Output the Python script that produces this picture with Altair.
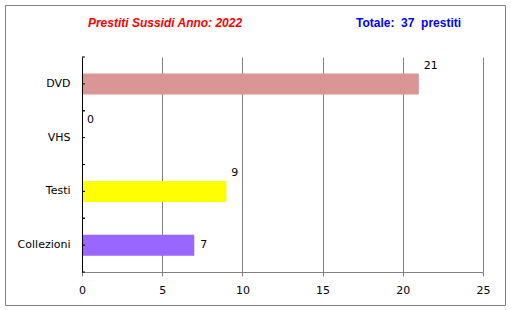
import altair as alt
import pandas as pd

categories = ["DVD", "VHS", "Testi", "Collezioni"]
values = [21, 0, 9, 7]
colors = ["#DA9694", "#FFFFFF", "#FFFF00", "#9966FF"]
x_ticks = [0, 5, 10, 15, 20, 25]
title_text = "Prestiti Sussidi Anno: 2022"
total_text = "Totale:\u00a0\u00a037\u00a0\u00a0prestiti"

df = pd.DataFrame({"cat": categories, "val": values, "color": colors})

FONT = "DejaVu Sans"

yscale = alt.Scale(domain=categories, paddingInner=0, paddingOuter=0)
yenc = alt.Y(
    "cat:N", sort=categories, scale=yscale,
    axis=alt.Axis(title=None, domainColor="black", ticks=False, labelPadding=12,
                  labelFont=FONT, labelFontSize=11, labelColor="black", grid=False, zindex=1),
)
xenc = alt.X(
    "val:Q", scale=alt.Scale(domain=[0, 25], nice=False),
    axis=alt.Axis(title=None, values=x_ticks, grid=True, gridColor="#808080", gridOpacity=1,
                  domainColor="#808080", tickColor="#808080", tickSize=4, labelPadding=8,
                  labelFont=FONT, labelFontSize=11, labelColor="black", labelFlush=False),
)

base = alt.Chart(df)

bars = base.mark_bar(size=21).encode(x=xenc, y=yenc, color=alt.Color("color:N", scale=None))

tick_c = base.mark_rule(color="black").encode(
    y=alt.Y("cat:N", sort=categories), x=alt.value(0), x2=alt.value(3))
tick_e0 = base.mark_rule(color="black").encode(
    y=alt.Y("cat:N", sort=categories, bandPosition=0), x=alt.value(0), x2=alt.value(3))
tick_e1 = base.mark_rule(color="black").encode(
    y=alt.Y("cat:N", sort=categories, bandPosition=1), x=alt.value(0), x2=alt.value(3))

labels_above = base.transform_filter(alt.datum.cat != "Collezioni").mark_text(
    align="left", baseline="middle", dx=5, dy=-18, font=FONT, fontSize=11, color="black"
).encode(x="val:Q", y=alt.Y("cat:N", sort=categories), text="val:Q")

labels_mid = base.transform_filter(alt.datum.cat == "Collezioni").mark_text(
    align="left", baseline="middle", dx=6, dy=0, font=FONT, fontSize=11, color="black"
).encode(x="val:Q", y=alt.Y("cat:N", sort=categories), text="val:Q")

one = alt.Data(values=[{}])
title = alt.Chart(one).mark_text(
    font="Liberation Sans", fontSize=12, fontWeight="bold", fontStyle="italic",
    color="#FF0000", align="center", baseline="middle"
).encode(x=alt.value(83), y=alt.value(-34), text=alt.value(title_text))
total = alt.Chart(one).mark_text(
    font="Liberation Sans", fontSize=12, fontWeight="bold",
    color="#0000FF", align="center", baseline="middle"
).encode(x=alt.value(326.5), y=alt.value(-34), text=alt.value(total_text))

border = alt.Chart(one).mark_rect(fill=None, stroke="#808080", strokeWidth=1).encode(
    x=alt.value(-76.5), x2=alt.value(423.5), y=alt.value(-51.5), y2=alt.value(248.5))

chart = alt.layer(border, bars, tick_c, tick_e0, tick_e1, labels_above, labels_mid, title, total).properties(
    width=401, height=215,
    padding={"left": 82, "top": 57, "right": 28, "bottom": 38},
    autosize=alt.AutoSizeParams(type="none"),
    background="white",
).configure_view(stroke=None)

chart.save("out.html", embed_options={"renderer": "svg", "actions": False})
